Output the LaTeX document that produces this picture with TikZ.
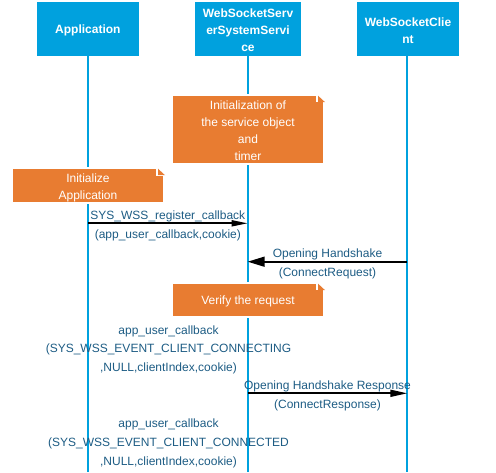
\documentclass[tikz,border=0pt]{standalone}
\usepackage{fontspec}
\setmainfont{Liberation Sans}
\usetikzlibrary{arrows.meta}
\definecolor{hdrblue}{HTML}{00A1DE}
\definecolor{noteorange}{HTML}{E87C31}
\definecolor{lbltext}{HTML}{1D5C84}
\tikzset{
  header/.style={fill=hdrblue, inner sep=0pt, minimum height=53.7pt},
  headertext/.style={text=white, font=\fontsize{12}{17}\selectfont\bfseries,
    align=center, inner sep=0pt, yshift=-1.8pt},
  lifeline/.style={draw=hdrblue, line width=2pt},
  notebox/.style={fill=noteorange, draw=white, line width=2pt, inner sep=0pt},
  notetext/.style={text=white, font=\fontsize{12}{16.8}\selectfont, align=center,
    inner sep=0pt, yshift=-1.5pt},
  msg/.style={draw=black, line width=1.7pt},
  lbl/.style={text=lbltext, font=\fontsize{12}{18.9}\selectfont, align=center, inner sep=0pt},
}
\newcommand{\foldcorner}[1]{%
  \fill[white] (#1.north east) ++(1,-1) rectangle ++(-10,9.5);
  \fill[noteorange] (#1.north east) ++(-7,1.7) -- ++(0,6.5) -- ++(7,0) -- cycle;
}
\begin{document}
\begin{tikzpicture}[x=1pt,y=-1pt]
\useasboundingbox (0,0) rectangle (496,472);
% headers
\node[header, minimum width=101.7pt,
  label={[headertext]center:Application}] (app) at (87.9,28.8) {};
\node[header, minimum width=105.4pt,
  label={[headertext]center:{WebSocketServ\\erSystemServi\\ce}}] (svc) at (248,28.8) {};
\node[header, minimum width=102pt,
  label={[headertext]center:{WebSocketClie\\nt}}] (cli) at (408,28.8) {};
% lifeline ends
\coordinate (appEnd) at (88,472);
\coordinate (svcEnd) at (247.7,472);
\coordinate (cliEnd) at (407.3,472);
\draw[lifeline] (app.south -| appEnd) -- (appEnd);
\draw[lifeline] (svc.south -| svcEnd) -- (svcEnd);
\draw[lifeline] (cli.south -| cliEnd) -- (cliEnd);
% notes
\node[notebox, minimum width=152pt, minimum height=68.7pt,
  label={[notetext]center:{Initialization of\\the service object\\and\\timer}}] (n1) at (248,129.3) {};
\foldcorner{n1}
\node[notebox, minimum width=152pt, minimum height=35pt,
  label={[notetext,yshift=-1pt]center:{Initialize\\Application}}] (n2) at (88,185.5) {};
\foldcorner{n2}
\node[notebox, minimum width=152pt, minimum height=33.7pt,
  label={[notetext]center:{Verify the request}}] (n3) at (248,299.8) {};
\foldcorner{n3}
% message anchors
\coordinate (m1s) at (88,223.3);
\coordinate (m1e) at (247.7,223.3);
\coordinate (m2s) at (407.3,261.7);
\coordinate (m2e) at (247.7,261.7);
\coordinate (m3s) at (247.7,393.3);
\coordinate (m3e) at (407.3,393.3);
\draw[msg, -{Triangle[length=16pt,width=6pt]}] (m1s) -- (m1e)
  node[lbl, midway, yshift=6.8pt] (m1a) {SYS\_WSS\_register\_callback}
  node[lbl, midway, yshift=-12.5pt] (m1b) {(app\_user\_callback,cookie)};
\draw[msg, -{Triangle[length=17pt,width=10pt]}] (m2s) -- (m2e)
  node[lbl, midway, yshift=7.4pt] (m2a) {Opening Handshake}
  node[lbl, midway, yshift=-12pt] (m2b) {(ConnectRequest)};
\draw[msg, -{Triangle[length=17pt,width=7pt]}] (m3s) -- (m3e)
  node[lbl, midway, yshift=6.6pt] (m3a) {Opening Handshake Response}
  node[lbl, midway, yshift=-12.5pt] (m3b) {(ConnectResponse)};
% callback texts
\node[lbl] (cb1) at (168.5,349.8) {app\_user\_callback\\(SYS\_WSS\_EVENT\_CLIENT\_CONNECTING\\,NULL,clientIndex,cookie)};
\node[lbl] (cb2) at (168.5,443.5) {app\_user\_callback\\(SYS\_WSS\_EVENT\_CLIENT\_CONNECTED\\,NULL,clientIndex,cookie)};
\end{tikzpicture}
\end{document}
